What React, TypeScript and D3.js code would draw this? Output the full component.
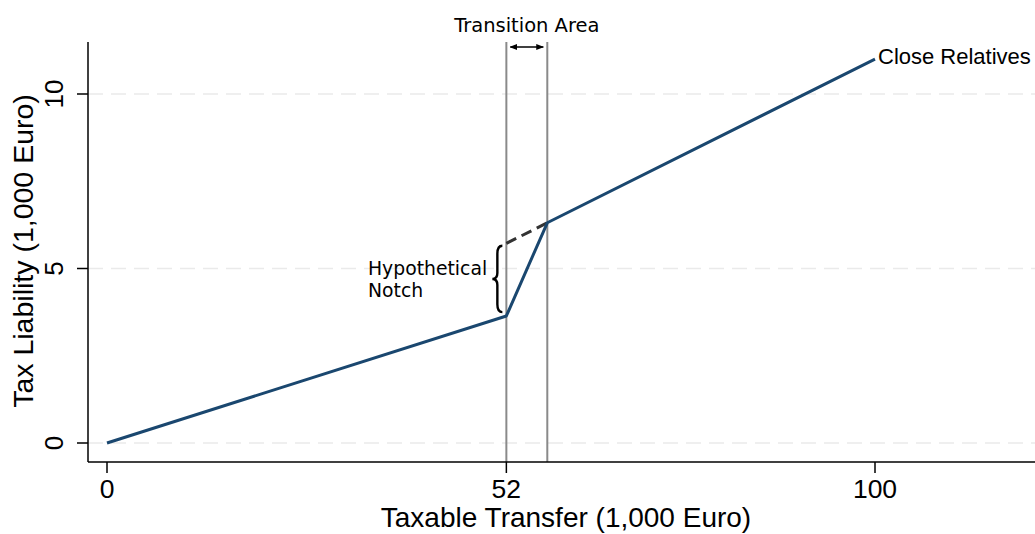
import React from "react";
import * as d3 from "d3";

const xTicks = [0, 52, 100];
const yTicks = [0, 5, 10];
const taxLine: [number, number][] = [
  [0, 0],
  [52, 3.64],
  [57.33, 6.31],
  [100, 11],
];
const hypothetical: [number, number][] = [
  [52, 5.72],
  [57.33, 6.31],
];
const transitionBounds = [52, 57.33];
const notchRange = [3.75, 5.65];

const W = 1035;
const H = 534;
const SANS = "'Liberation Sans', Arial, sans-serif";
const DEJA = "'DejaVu Sans', sans-serif";

export default function App() {
  const x = d3.scaleLinear().domain([0, 100]).range([107, 875]);
  const y = d3.scaleLinear().domain([0, 10]).range([443, 94]);
  const axisLeft = 88;
  const axisBottom = 462;
  const top = 42;
  const line = d3
    .line<[number, number]>()
    .x((d) => x(d[0]))
    .y((d) => y(d[1]));

  const bx = x(transitionBounds[0]) - 9;
  const by0 = y(notchRange[1]);
  const by1 = y(notchRange[0]);
  const bm = (by0 + by1) / 2;
  const bw = 5;
  const brace = `M ${bx + bw} ${by0} Q ${bx} ${by0} ${bx} ${by0 + 8} L ${bx} ${bm - 6} Q ${bx} ${bm} ${bx - bw} ${bm} Q ${bx} ${bm} ${bx} ${bm + 6} L ${bx} ${by1 - 8} Q ${bx} ${by1} ${bx + bw} ${by1}`;

  const arrowY = 47;
  const ax0 = x(transitionBounds[0]) + 4;
  const ax1 = x(transitionBounds[1]) - 4;

  return (
    <svg width={W} height={H} style={{ position: "absolute", left: 0, top: 0, background: "#fff" }}>
      <defs>
        <marker id="ah" viewBox="0 0 10 10" refX="9" refY="5" markerWidth="6" markerHeight="6" orient="auto-start-reverse">
          <path d="M0,1 L10,5 L0,9 z" fill="#000" />
        </marker>
      </defs>
      {yTicks.map((t) => (
        <line key={"g" + t} x1={axisLeft} x2={W} y1={y(t)} y2={y(t)} stroke="#eaeaea" strokeWidth={1.6} strokeDasharray="15 8" />
      ))}
      {transitionBounds.map((b) => (
        <line key={"v" + b} x1={x(b)} x2={x(b)} y1={top} y2={axisBottom} stroke="#8a8a8a" strokeWidth={2} />
      ))}
      <path d={line(hypothetical) || ""} fill="none" stroke="#333" strokeWidth={3} strokeDasharray="11 6" />
      <path d={line(taxLine) || ""} fill="none" stroke="#1a476f" strokeWidth={3} strokeLinejoin="round" />
      <path d={brace} fill="none" stroke="#000" strokeWidth={2.4} />
      <line x1={ax0} x2={ax1} y1={arrowY} y2={arrowY} stroke="#000" strokeWidth={1.3} markerStart="url(#ah)" markerEnd="url(#ah)" />
      <text x={(x(transitionBounds[0]) + x(transitionBounds[1])) / 2} y={32} textAnchor="middle" fontFamily={DEJA} fontSize={19.5}>
        Transition Area
      </text>
      <text x={368} y={275} fontFamily={DEJA} fontSize={18.8}>Hypothetical</text>
      <text x={368} y={297} fontFamily={DEJA} fontSize={18.8}>Notch</text>
      <text x={x(100) + 3} y={64} fontFamily={SANS} fontSize={22}>Close Relatives</text>
      {/* axes */}
      <line x1={axisLeft} x2={axisLeft} y1={top} y2={axisBottom} stroke="#000" strokeWidth={1.5} />
      <line x1={axisLeft} x2={W} y1={axisBottom} y2={axisBottom} stroke="#000" strokeWidth={1.5} />
      {yTicks.map((t) => (
        <g key={"yt" + t}>
          <line x1={axisLeft - 11} x2={axisLeft} y1={y(t)} y2={y(t)} stroke="#000" strokeWidth={1.5} />
          <text transform={`translate(${axisLeft - 25},${y(t)}) rotate(-90)`} textAnchor="middle" fontFamily={SANS} fontSize={26}>
            {t}
          </text>
        </g>
      ))}
      {xTicks.map((t) => (
        <g key={"xt" + t}>
          <line x1={x(t)} x2={x(t)} y1={axisBottom} y2={axisBottom + 11} stroke="#000" strokeWidth={1.5} />
          <text x={x(t)} y={axisBottom + 36} textAnchor="middle" fontFamily={SANS} fontSize={26.5}>
            {t}
          </text>
        </g>
      ))}
      <text x={566} y={527} textAnchor="middle" fontFamily={SANS} fontSize={28}>
        Taxable Transfer (1,000 Euro)
      </text>
      <text transform={`translate(33,251) rotate(-90)`} textAnchor="middle" fontFamily={SANS} fontSize={28.5}>
        Tax Liability (1,000 Euro)
      </text>
    </svg>
  );
}
